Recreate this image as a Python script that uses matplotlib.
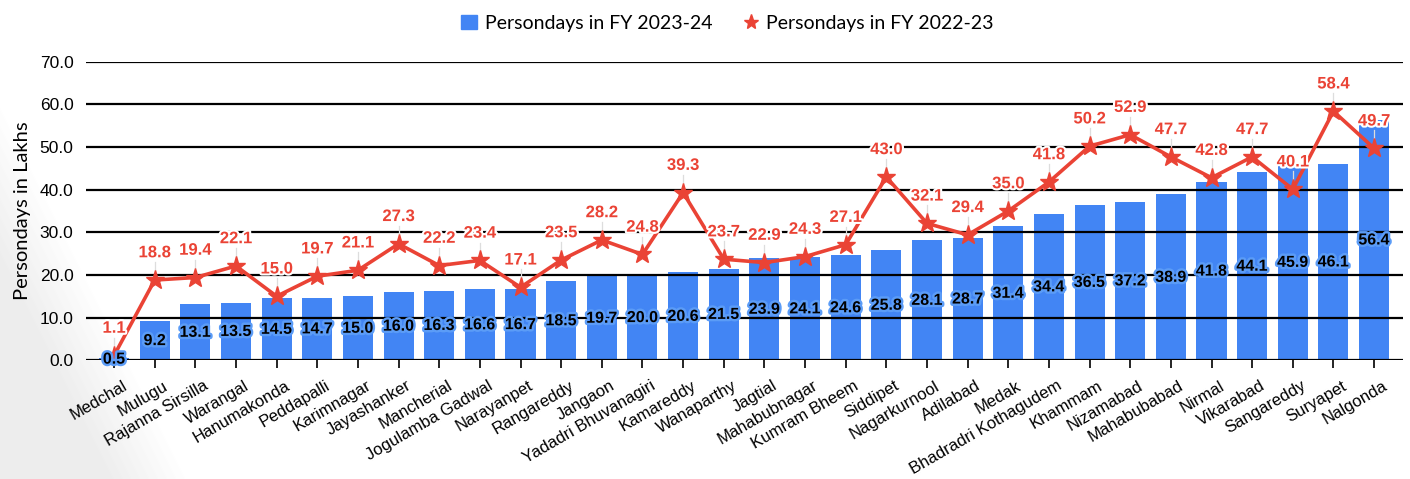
import numpy as np
import matplotlib.pyplot as plt
import matplotlib.patheffects as pe
import matplotlib.transforms as mtransforms
from matplotlib.lines import Line2D
from matplotlib.patches import Patch

districts = ["Medchal", "Mulugu", "Rajanna Sirsilla", "Warangal", "Hanumakonda",
             "Peddapalli", "Karimnagar", "Jayashanker", "Mancherial", "Jogulamba Gadwal",
             "Narayanpet", "Rangareddy", "Jangaon", "Yadadri Bhuvanagiri", "Kamareddy",
             "Wanaparthy", "Jagtial", "Mahabubnagar", "Kumram Bheem", "Siddipet",
             "Nagarkurnool", "Adilabad", "Medak", "Bhadradri Kothagudem", "Khammam",
             "Nizamabad", "Mahabubabad", "Nirmal", "Vikarabad", "Sangareddy",
             "Suryapet", "Nalgonda"]
fy2324 = [0.5, 9.2, 13.1, 13.5, 14.5, 14.7, 15.0, 16.0, 16.3, 16.6, 16.7, 18.5, 19.7,
          20.0, 20.6, 21.5, 23.9, 24.1, 24.6, 25.8, 28.1, 28.7, 31.4, 34.4, 36.5, 37.2,
          38.9, 41.8, 44.1, 45.9, 46.1, 56.4]
fy2223 = [1.1, 18.8, 19.4, 22.1, 15.0, 19.7, 21.1, 27.3, 22.2, 23.4, 17.1, 23.5, 28.2,
          24.8, 39.3, 23.7, 22.9, 24.3, 27.1, 43.0, 32.1, 29.4, 35.0, 41.8, 50.2, 52.9,
          47.7, 42.8, 47.7, 40.1, 58.4, 49.7]

blue = "#4285F4"
red = "#EA4335"

fig = plt.figure(figsize=(14.1, 4.79), dpi=100)

# faint grey shading in the lower left corner
bg = fig.add_axes([0, 0, 1, 1], zorder=-10)
px, py = np.meshgrid(np.arange(1410), np.arange(479))
edge = (py - 100) * 0.5
shade = np.clip((edge - px) / 80, 0, 1)
bg.imshow(1 - 0.07 * shade, cmap="gray", vmin=0, vmax=1, aspect="auto",
          extent=[0, 1, 0, 1], origin="upper")
bg.axis("off")

ax = fig.add_axes([0.061, 0.248, 0.934, 0.623])
ax.patch.set_alpha(0)
x = np.arange(len(districts))

ax.bar(x, fy2324, width=0.74, color=blue, zorder=2)
ax.plot(x, fy2223, color=red, lw=2.6, marker="*", ms=14, zorder=4)

for v in range(0, 71, 10):
    ax.axhline(v, color="black", lw=1.6, zorder=3)

for xi, v in zip(x, fy2324):
    ax.text(xi, v / 2, f"{v:.1f}", ha="center", va="center", fontsize=11.5,
            fontweight="bold", family="Liberation Sans", color="black", zorder=6,
            path_effects=[pe.withStroke(linewidth=3.5, foreground="#5b9cf7")])

for xi, v in zip(x, fy2223):
    ax.plot([xi, xi], [v + 0.6, v + 4.2], color="#dddddd", lw=0.9, zorder=3.5)
    ax.text(xi, v + 6.4, f"{v:.1f}", ha="center", va="center", fontsize=12,
            fontweight="bold", family="Liberation Sans", color=red, zorder=6,
            path_effects=[pe.withStroke(linewidth=3, foreground="white")])

ax.set_xlim(-0.69, 31.71)
ax.set_ylim(0, 70)
ax.set_yticks(range(0, 71, 10))
ax.set_yticklabels([f"{v:.1f}" for v in range(0, 71, 10)], fontsize=12.5,
                   family="Liberation Sans")
ax.tick_params(axis="y", length=0, pad=9)
ax.set_xticks(x)
ax.set_xticklabels(districts, rotation=30, ha="right", rotation_mode="anchor",
                   fontsize=12, family="Liberation Sans")
ax.tick_params(axis="x", length=6, width=1.2, pad=4)
shift = mtransforms.ScaledTranslation(8 / 100, -4 / 100, fig.dpi_scale_trans)
for lab in ax.get_xticklabels():
    lab.set_transform(lab.get_transform() + shift)
for s in ax.spines.values():
    s.set_visible(False)

ax.set_ylabel("Persondays in Lakhs", fontsize=14.5, family="Lato", labelpad=6)

handles = [Patch(color=blue, label="Persondays in FY 2023-24"),
           Line2D([], [], color=red, marker="*", ls="none", ms=11,
                  label="Persondays in FY 2022-23")]
fig.legend(handles=handles, loc="upper center", bbox_to_anchor=(0.516, 1.005), ncol=2,
           frameon=False, prop={"family": "Lato", "size": 14}, handlelength=0.8,
           handletextpad=0.4, columnspacing=1.6)

fig.savefig("out.png", dpi=100)
